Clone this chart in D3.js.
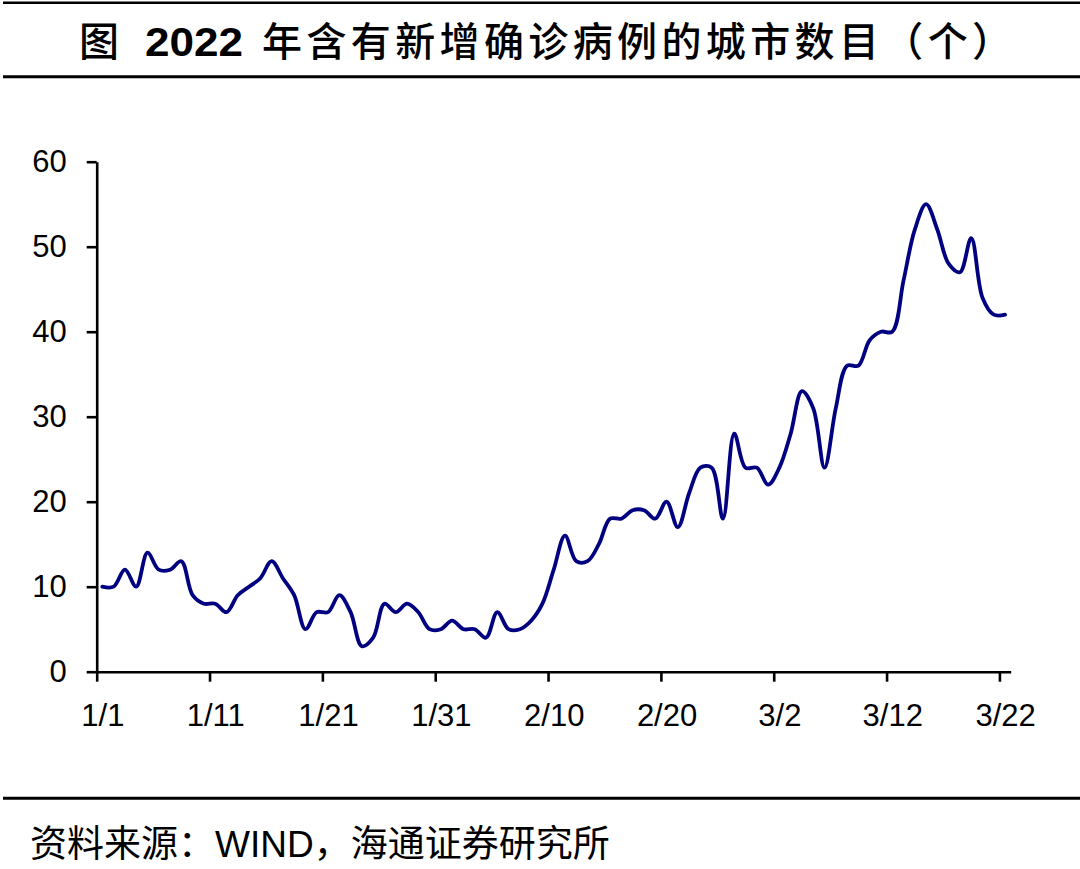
<!DOCTYPE html>
<html>
<head>
<meta charset="utf-8">
<script src="https://cdn.jsdelivr.net/npm/d3@7"></script>
<style>
  html, body { margin: 0; padding: 0; background: #fff; }
  svg { display: block; }
</style>
</head>
<body>
<svg id="chart" width="1080" height="869"></svg>
<script>
// ---- data ----
const startDate = "2022-01-01";
const endDate = "2022-03-23";
const values = [
  10,10,12,10,14,12,12,13,9,8,
  8,7,9,10,11,13,11,9,5,7,
  7,9,7,3,4,8,7,8,7,5,
  5,6,5,5,4,7,5,5,6,8,
  12,16,13,13,15,18,18,19,19,18,
  20,17,21,24,24,18,28,24,24,22,
  24,28,33,31,24,31,36,36,39,40,
  40,46,52,55,52,48,47,51,44,42,42
];
const xTickLabels = ["1/1","1/11","1/21","1/31","2/10","2/20","3/2","3/12","3/22"];
const yTicks = [0,10,20,30,40,50,60];
const titleParts = ["图", "2022", "年含有新增确诊病例的城市数目（个）"];
const sourceParts = ["资料来源：", "WIND", "，海通证券研究所"];

// ---- build ----
const parse = d3.timeParse("%Y-%m-%d");
const t0 = parse(startDate);
const data = values.map((v, i) => ({ date: d3.timeDay.offset(t0, i), value: v }));
const tickDates = xTickLabels.map(s => {
  const [m, d] = s.split("/").map(Number);
  return new Date(2022, m - 1, d);
});

const svg = d3.select("#chart");
const W = 1080;
const latin = "'Liberation Sans', Arial, sans-serif";
const cjk = "'Noto Sans CJK SC', sans-serif";

const x = d3.scaleTime().domain([t0, parse(endDate)]).range([96.7, 1010.7]);
const y = d3.scaleLinear().domain([0, 60]).range([671.7, 161.7]);
const halfDay = d => d3.timeHour.offset(d, 12);

// rules
const rules = [2.7, 76.7, 798.3];
svg.selectAll("line.rule").data(rules).enter().append("line")
  .attr("class", "rule")
  .attr("x1", 3).attr("x2", W)
  .attr("y1", d => d).attr("y2", d => d)
  .attr("stroke", "#000").attr("stroke-width", d => d < 5 ? 2.4 : 3);

// title
const title = svg.append("text")
  .attr("y", 56)
  .attr("fill", "#000")
  .style("font-family", cjk);
title.append("tspan").attr("x", 79).text(titleParts[0])
  .style("font-size", "40px").style("font-weight", 500);
title.append("tspan").attr("x", 145).text(titleParts[1])
  .style("font-family", latin)
  .style("font-size", "41px").style("font-weight", 700)
  .attr("textLength", 98).attr("lengthAdjust", "spacingAndGlyphs");
title.append("tspan").attr("x", 262).text(titleParts[2])
  .style("font-size", "40px").style("font-weight", 500)
  .attr("textLength", 750).attr("lengthAdjust", "spacing");

// y axis
const yAxis = d3.axisLeft(y).tickValues(yTicks).tickSize(10).tickSizeOuter(0).tickPadding(20);
const gy = svg.append("g").attr("transform", `translate(${x.range()[0]},0)`).call(yAxis);
gy.selectAll("text")
  .style("font-family", latin)
  .style("font-size", "31px").attr("fill", "#000");
gy.selectAll("line, path").attr("stroke", "#000").attr("stroke-width", 2.6);

// x axis
const xAxis = d3.axisBottom(x).tickValues(tickDates).tickSize(10).tickSizeOuter(0)
  .tickPadding(22).tickFormat((d, i) => xTickLabels[i]);
const gx = svg.append("g").attr("transform", `translate(0,${y(0)})`).call(xAxis);
const shift = x(halfDay(t0)) - x(t0);
gx.selectAll("text").attr("x", shift)
  .style("font-family", latin)
  .style("font-size", "31px").attr("fill", "#000");
gx.selectAll("line, path").attr("stroke", "#000").attr("stroke-width", 2.6);

// line
const line = d3.line()
  .x(d => x(halfDay(d.date)))
  .y(d => y(d.value))
  .curve(d3.curveCatmullRom.alpha(0.5));
svg.append("path").datum(data)
  .attr("d", line)
  .attr("fill", "none")
  .attr("stroke", "#000080")
  .attr("stroke-width", 3.8)
  .attr("stroke-linecap", "round")
  .attr("stroke-linejoin", "round");

// source
const src = svg.append("text")
  .attr("x", 30).attr("y", 857)
  .attr("fill", "#000")
  .style("font-family", cjk)
  .style("font-size", "37px");
src.append("tspan").text(sourceParts[0]);
src.append("tspan").style("font-family", latin).text(sourceParts[1]);
src.append("tspan").text(sourceParts[2]);
</script>
</body>
</html>
